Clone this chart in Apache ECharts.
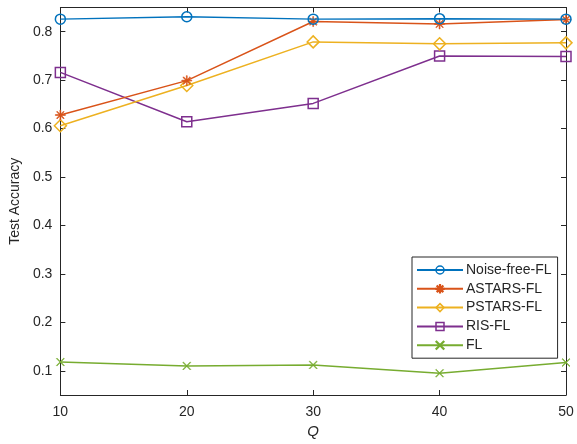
<!DOCTYPE html>
<html>
<head>
<meta charset="utf-8">
<script src="https://cdn.jsdelivr.net/npm/echarts@6/dist/echarts.min.js"></script>
<style>
  html, body { margin: 0; padding: 0; background: #fff; }
  #chart { width: 577px; height: 444px; }
</style>
</head>
<body>
<div id="chart"></div>
<script>
// Q values on the x axis
const qValues = [10, 20, 30, 40, 50];

// Test accuracy per scheme
const noiseFreeFL = [0.826, 0.831, 0.826, 0.827, 0.826];
const astarsFL    = [0.628, 0.699, 0.821, 0.816, 0.825];
const pstarsFL    = [0.606, 0.689, 0.779, 0.775, 0.777];
const risFL       = [0.716, 0.614, 0.652, 0.750, 0.749];
const plainFL     = [0.118, 0.110, 0.112, 0.095, 0.117];

const seriesNames = ['Noise-free-FL', 'ASTARS-FL', 'PSTARS-FL', 'RIS-FL', 'FL'];
const yTicks = [0.1, 0.2, 0.3, 0.4, 0.5, 0.6, 0.7, 0.8];

const colors = ['#0072BD', '#D95319', '#EDB120', '#7E2F8E', '#77AC30'];
const textColor = '#262626';
const font = 'Liberation Sans, Arial, Helvetica, sans-serif';

// Star (asterisk) and cross markers drawn as thin filled bars
const starPath = 'path://M-0.09,-1L0.09,-1L0.09,1L-0.09,1Z' +
  'M-1,-0.09L1,-0.09L1,0.09L-1,0.09Z' +
  'M-0.64,-0.77L0.77,0.64L0.64,0.77L-0.77,-0.64Z' +
  'M0.64,-0.77L0.77,-0.64L-0.64,0.77L-0.77,0.64Z';
const crossPath = 'path://M-0.86,-1L1,0.86L0.86,1L-1,-0.86Z' +
  'M0.86,-1L1,-0.86L-0.86,1L-1,0.86Z';

const seriesData = [noiseFreeFL, astarsFL, pstarsFL, risFL, plainFL];
const symbols = ['circle', starPath, 'diamond', 'rect', crossPath];
const symbolSizes = [10, 10, 12, 10, 8];
const filled = [false, true, false, false, true];

const series = seriesNames.map((name, i) => ({
  name: name,
  type: 'line',
  data: qValues.map((q, k) => [q, seriesData[i][k]]),
  symbol: symbols[i],
  symbolSize: symbolSizes[i],
  showAllSymbol: true,
  lineStyle: { color: colors[i], width: 1.5 },
  itemStyle: {
    color: filled[i] ? colors[i] : 'rgba(255,255,255,0)',
    borderColor: colors[i],
    borderWidth: filled[i] ? 0.6 : 1.5
  },
  emphasis: { disabled: true },
  z: 10 - i
}));

const axisLine = { show: true, lineStyle: { color: textColor, width: 1 } };
const axisTick = { show: true, inside: true, length: 5, lineStyle: { color: textColor, width: 1 } };

const chart = echarts.init(document.getElementById('chart'), null, { renderer: 'canvas' });
chart.setOption({
  animation: false,
  backgroundColor: '#fff',
  grid: { left: 59.5, right: 11, top: 7.5, bottom: 45, containLabel: false },
  xAxis: [{
    type: 'value', min: 10, max: 50, interval: 10,
    name: 'Q', nameLocation: 'middle', nameGap: 29,
    nameTextStyle: { fontFamily: font, fontSize: 15, fontStyle: 'italic', color: textColor },
    axisLine: axisLine, axisTick: axisTick,
    axisLabel: { fontFamily: font, fontSize: 14, color: textColor, margin: 10 },
    splitLine: { show: false }
  }, {
    type: 'value', min: 10, max: 50, interval: 10, position: 'top',
    axisLine: axisLine, axisTick: axisTick,
    axisLabel: { show: false }, splitLine: { show: false }
  }],
  yAxis: [{
    type: 'value', min: 0.05, max: 0.85,
    name: 'Test Accuracy', nameLocation: 'middle', nameGap: 32,
    nameTextStyle: { fontFamily: font, fontSize: 14, color: textColor },
    axisLine: axisLine,
    axisTick: Object.assign({}, axisTick, { customValues: yTicks }),
    axisLabel: { fontFamily: font, fontSize: 14, color: textColor, margin: 8,
      customValues: yTicks, formatter: v => v.toFixed(1) },
    splitLine: { show: false }
  }, {
    type: 'value', min: 0.05, max: 0.85, position: 'right',
    axisLine: axisLine,
    axisTick: Object.assign({}, axisTick, { customValues: yTicks }),
    axisLabel: { show: false, customValues: yTicks }, splitLine: { show: false }
  }],
  legend: {
    data: seriesNames,
    orient: 'vertical',
    left: 412, top: 257,
    padding: [6, 6, 6, 4],
    itemWidth: 46, itemHeight: 10, itemGap: 4.8,
    backgroundColor: '#fff',
    borderColor: textColor, borderWidth: 1,
    textStyle: { fontFamily: font, fontSize: 14, color: textColor, padding: [0, 0, 0, -2] },
    itemStyle: { borderWidth: 1.5 },
    selectedMode: false
  },
  series: series
});
</script>
</body>
</html>
